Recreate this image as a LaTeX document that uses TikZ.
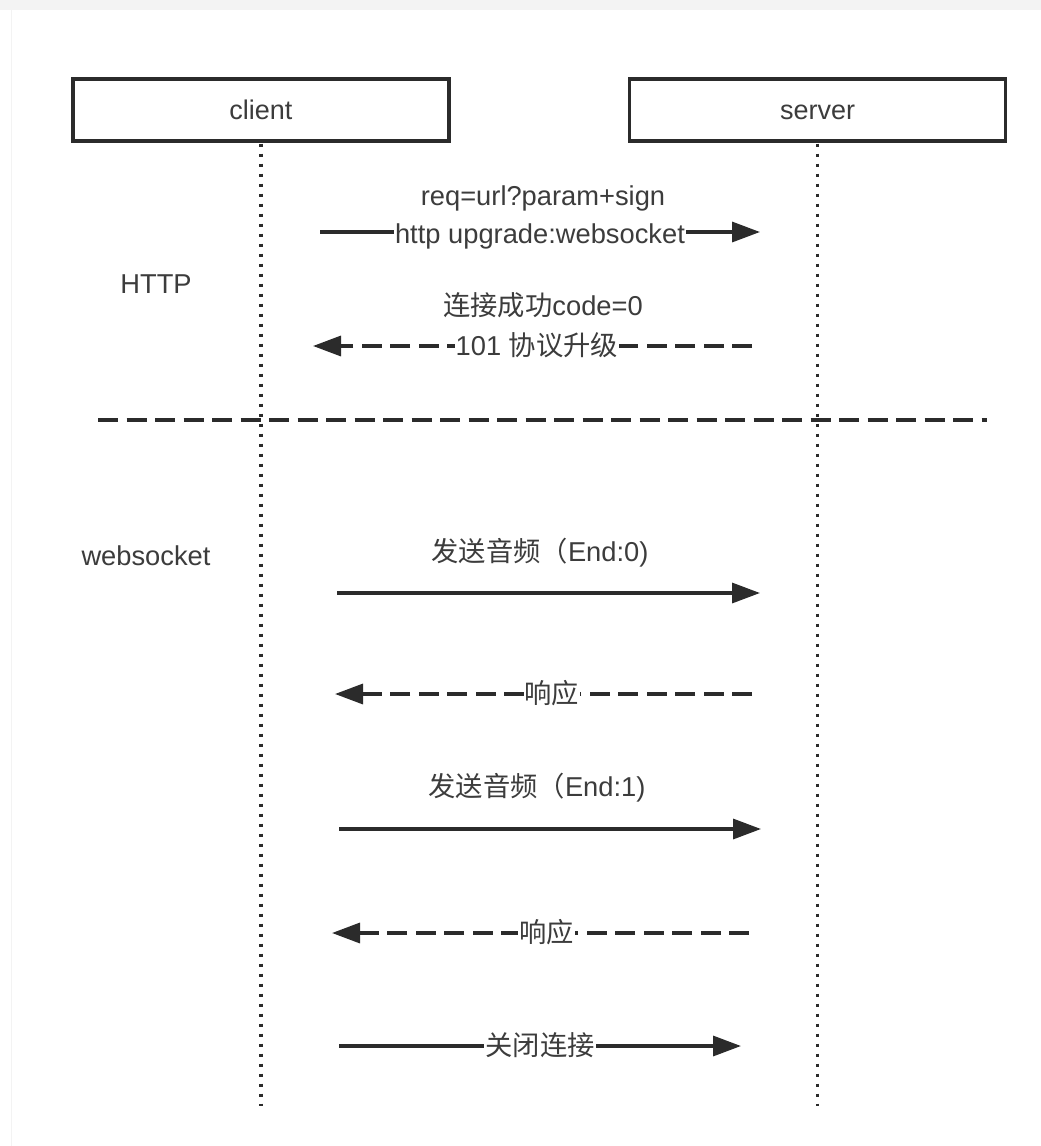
\documentclass[tikz,border=0pt]{standalone}
\usepackage{fontspec}
\setmainfont{Liberation Sans}
\newfontfamily\cjk{Noto Sans CJK SC}
\usetikzlibrary{arrows.meta}
\definecolor{ink}{HTML}{2B2B2B}
\definecolor{txt}{HTML}{3C3C3C}
\definecolor{edge}{HTML}{F3F3F3}
\begin{document}
\begin{tikzpicture}[x=1pt,y=-1pt,
  actor/.style={draw=ink, line width=3.2pt, minimum width=376pt, minimum height=62pt, inner sep=0pt, text height=20pt, text depth=2pt, font=\fontsize{27}{30}\selectfont, text=txt},
  life/.style={draw=ink, line width=3.8pt, dash pattern=on 3.8pt off 6.2pt},
  msg/.style={draw=ink, line width=3.3pt, -{Triangle[length=28pt,width=20pt]}},
  reply/.style={msg, dash pattern=on 20pt off 8.5pt},
  sep/.style={draw=ink, line width=3.3pt, dash pattern=on 20pt off 8.5pt},
  lbl/.style={font=\fontsize{27.3}{30}\selectfont, text=txt, fill=white, inner sep=1pt, anchor=base},
  note/.style={font=\fontsize{27.3}{30}\selectfont, text=txt, inner sep=0pt, anchor=base},
]
% canvas
\useasboundingbox (0,0) rectangle (1041,1146);
\fill[white] (0,0) rectangle (1041,1146);
\fill[edge] (0,0) rectangle (1041,9.5);
\draw[edge, line width=1.5pt] (11.5,9.5) -- (11.5,1146);

% actors
\node[actor] (client) at (261,110) {client};
\node[actor] (server) at (817.5,110) {server};

% lifelines
\coordinate (cEnd) at (261,1106);
\coordinate (sEnd) at (817.5,1106);
\draw[life] ([yshift=-1pt]client.south) -- (cEnd);
\draw[life] ([yshift=-1pt]server.south) -- (sEnd);

% phase labels
\node[note] (http) at (156,293) {HTTP};
\node[note] (ws) at (146,565) {websocket};

% separator
\coordinate (sepL) at (98,420);
\coordinate (sepR) at (987,420);
\draw[sep] (sepL) -- (sepR);

% message 1
\coordinate (m1a) at (320,232);
\coordinate (m1b) at (760,232);
\draw[msg] (m1a) -- node[lbl, yshift=-11pt] (m1t) {http upgrade:websocket} (m1b);
\node[note] (m1u) at (543,205) {req=url?param+sign};

% message 2
\coordinate (m2a) at (752,346);
\coordinate (m2b) at (313,346);
\draw[reply] (m2a) -- node[lbl, pos=0.49, yshift=-9pt] (m2t) {101 {\cjk 协议升级}} (m2b);
\node[note] (m2u) at (543,315) {{\cjk 连接成功}code=0};

% message 3
\coordinate (m3a) at (337,593);
\coordinate (m3b) at (760,593);
\draw[msg] (m3a) -- (m3b);
\node[note] (m3u) at (540,561) {{\cjk 发送音频（}End:0)};

% message 4
\coordinate (m4a) at (752,694);
\coordinate (m4b) at (335,694);
\draw[reply] (m4a) -- node[lbl, pos=0.48, yshift=-9pt] (m4t) {\cjk 响应} (m4b);

% message 5
\coordinate (m5a) at (339,829);
\coordinate (m5b) at (761,829);
\draw[msg] (m5a) -- (m5b);
\node[note] (m5u) at (537,796) {{\cjk 发送音频（}End:1)};

% message 6
\coordinate (m6a) at (749,933);
\coordinate (m6b) at (332,933);
\draw[reply] (m6a) -- node[lbl, pos=0.485, yshift=-9pt] (m6t) {\cjk 响应} (m6b);

% message 7
\coordinate (m7a) at (339,1046);
\coordinate (m7b) at (741,1046);
\draw[msg] (m7a) -- node[lbl, yshift=-9pt] (m7t) {\cjk 关闭连接} (m7b);
\end{tikzpicture}
\end{document}
